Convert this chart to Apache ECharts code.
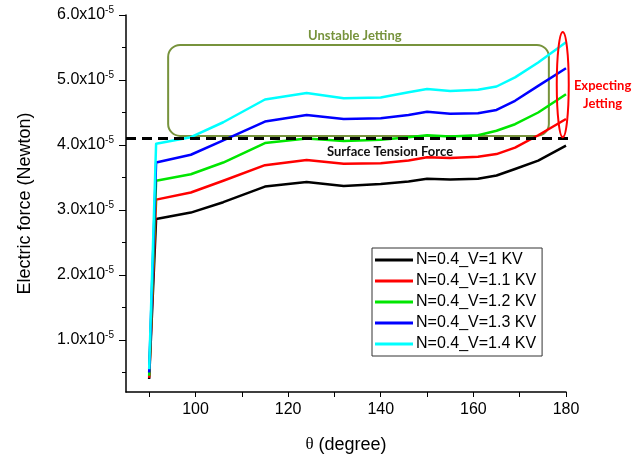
<!DOCTYPE html>
<html>
<head>
<meta charset="utf-8">
<script src="https://cdn.jsdelivr.net/npm/echarts@6/dist/echarts.min.js"></script>
<style>
  html, body { margin: 0; padding: 0; background: #fff; }
  #chart { width: 641px; height: 459px; }
</style>
</head>
<body>
<div id="chart"></div>
<script>
// θ (degree), shared by every curve
const theta = [90, 91.5, 99, 106, 115, 124, 132, 140, 146, 150, 155, 161, 165, 169, 174, 180]

// electric force, in units of 1e-5 N
const forceV10 = [0.40, 2.86, 2.96, 3.12, 3.36, 3.43, 3.37, 3.40, 3.44, 3.48, 3.47, 3.48, 3.53, 3.63, 3.76, 3.99]
const forceV11 = [0.42, 3.16, 3.27, 3.45, 3.69, 3.77, 3.71, 3.72, 3.76, 3.81, 3.80, 3.82, 3.86, 3.96, 4.15, 4.40]
const forceV12 = [0.45, 3.45, 3.55, 3.73, 4.03, 4.10, 4.06, 4.08, 4.12, 4.15, 4.13, 4.15, 4.22, 4.32, 4.50, 4.78]
const forceV13 = [0.50, 3.73, 3.85, 4.07, 4.36, 4.46, 4.40, 4.41, 4.46, 4.51, 4.48, 4.49, 4.54, 4.68, 4.91, 5.18]
const forceV14 = [0.55, 4.02, 4.12, 4.35, 4.70, 4.80, 4.72, 4.73, 4.81, 4.86, 4.83, 4.85, 4.90, 5.04, 5.27, 5.58]

const seriesNames = ['N=0.4_V=1 KV', 'N=0.4_V=1.1 KV', 'N=0.4_V=1.2 KV', 'N=0.4_V=1.3 KV', 'N=0.4_V=1.4 KV']
const seriesColors = ['#000000', '#ff0000', '#00e600', '#0000ff', '#00ffff']
const seriesValues = [forceV10, forceV11, forceV12, forceV13, forceV14]

// axis ticks
const xTicks = [90, 100, 110, 120, 130, 140, 150, 160, 170, 180]
const xLabels = [100, 120, 140, 160, 180]
const yLabels = [1, 2, 3, 4, 5, 6]
const yMinorTicks = [0.5, 1.5, 2.5, 3.5, 4.5, 5.5]

// surface tension force (1e-5 N)
const surfaceTension = 4.1

const chart = echarts.init(document.getElementById('chart'))

const font = 'Liberation Sans, Arial, sans-serif'
const noteFont = 'Lato, sans-serif'

const option = {
  animation: false,
  grid: { left: 126, right: 75, top: 15, bottom: 66 },
  legend: {
    data: seriesNames,
    orient: 'vertical',
    left: 372,
    top: 248,
    padding: [4, 6, 4, 3],
    itemGap: 5,
    itemWidth: 38,
    itemHeight: 3,
    icon: 'rect',
    borderColor: '#333',
    borderWidth: 1,
    textStyle: { fontFamily: font, fontSize: 16, color: '#000', padding: [0, 0, 0, -2] }
  },
  xAxis: {
    type: 'value',
    min: 85,
    max: 180,
    name: '{t|θ} (degree)',
    nameLocation: 'middle',
    nameGap: 44,
    nameTextStyle: {
      fontFamily: font, fontSize: 18, color: '#000',
      rich: { t: { fontFamily: 'Liberation Serif, serif', fontSize: 17, color: '#000' } }
    },
    axisLine: { lineStyle: { color: '#000', width: 1.5 } },
    axisTick: { customValues: xTicks, length: 5, lineStyle: { color: '#000', width: 1 } },
    axisLabel: { customValues: xLabels, fontFamily: font, fontSize: 16, color: '#000', margin: 10 },
    splitLine: { show: false }
  },
  yAxis: [
    {
      type: 'value',
      min: 0.2,
      max: 6,
      name: 'Electric force (Newton)',
      nameLocation: 'middle',
      nameGap: 92,
      nameTextStyle: { fontFamily: font, fontSize: 18, color: '#000' },
      axisLine: { show: true, lineStyle: { color: '#000', width: 1.5 } },
      axisTick: { customValues: yLabels, length: 7, lineStyle: { color: '#000', width: 1 } },
      axisLabel: {
        customValues: yLabels,
        margin: 12,
        formatter: v => `{b|${v.toFixed(1)}x10}{s|-5}`,
        rich: {
          b: { fontFamily: font, fontSize: 16, color: '#000', lineHeight: 20 },
          s: { fontFamily: font, fontSize: 10, color: '#000', verticalAlign: 'top', lineHeight: 20 }
        }
      },
      splitLine: { show: false }
    },
    {
      type: 'value',
      min: 0.2,
      max: 6,
      position: 'left',
      axisLine: { show: false },
      axisTick: { customValues: yMinorTicks, length: 4, lineStyle: { color: '#000', width: 1 } },
      axisLabel: { show: false },
      splitLine: { show: false }
    }
  ],
  series: seriesValues.map((vals, i) => ({
    name: seriesNames[i],
    type: 'line',
    data: theta.map((t, j) => [t, vals[j]]),
    symbol: 'none',
    color: seriesColors[i],
    lineStyle: { width: 2.5, color: seriesColors[i], join: 'round' },
    z: 2 + i
  }))
}

chart.setOption(option)

// annotations, placed from data coordinates
const px = (x, y) => chart.convertToPixel({ xAxisIndex: 0, yAxisIndex: 0 }, [x, y])

const lineStart = px(85, surfaceTension)
const lineEnd = px(181, surfaceTension)
const boxTL = px(94.1, 5.54)
const boxBR = px(176.3, 4.14)
const ellTop = px(179.3, 5.74)
const ellBottom = px(179.3, 4.12)
const unstablePos = px(134.4, 5.68)
const surfacePos = px(142, 3.89)
const expectPos = px(187.9, 4.77)

chart.setOption({
  graphic: [
    {
      type: 'rect',
      shape: { x: boxTL[0], y: boxTL[1], width: boxBR[0] - boxTL[0], height: boxBR[1] - boxTL[1], r: 12 },
      style: { fill: 'none', stroke: '#77933c', lineWidth: 2 },
      z: 1
    },
    {
      type: 'line',
      shape: { x1: lineStart[0], y1: lineStart[1], x2: lineEnd[0], y2: lineEnd[1] },
      style: { stroke: '#000', lineWidth: 3, lineDash: [10, 6] },
      z: 10
    },
    {
      type: 'ellipse',
      shape: { cx: ellTop[0], cy: (ellTop[1] + ellBottom[1]) / 2, rx: 6, ry: (ellBottom[1] - ellTop[1]) / 2 },
      style: { fill: 'none', stroke: '#ff0000', lineWidth: 2 },
      z: 10
    },
    {
      type: 'text',
      x: unstablePos[0], y: unstablePos[1],
      style: { text: 'Unstable Jetting', fill: '#77933c', font: 'bold 13px ' + noteFont, align: 'center', verticalAlign: 'middle' },
      z: 10
    },
    {
      type: 'text',
      x: surfacePos[0], y: surfacePos[1],
      style: { text: 'Surface Tension Force', fill: '#111', font: 'bold 13px ' + noteFont, align: 'center', verticalAlign: 'middle' },
      z: 10
    },
    {
      type: 'text',
      x: expectPos[0], y: expectPos[1],
      style: { text: 'Expecting\nJetting', fill: '#ff0000', font: 'bold 13px ' + noteFont, lineHeight: 18, align: 'center', verticalAlign: 'middle' },
      z: 10
    }
  ]
})
</script>
</body>
</html>
